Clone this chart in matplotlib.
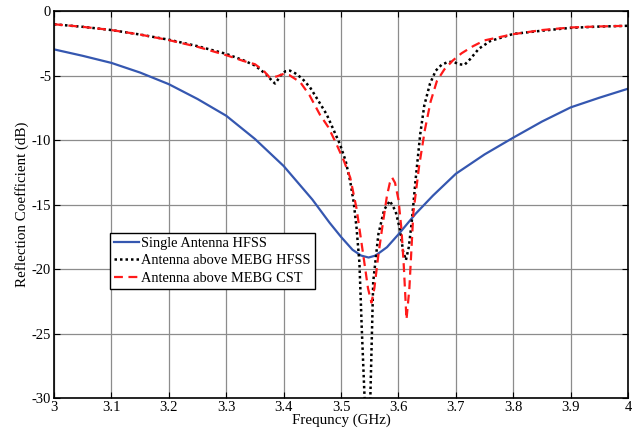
import numpy as np
import matplotlib
matplotlib.use("Agg")
import matplotlib.pyplot as plt

plt.rcParams['font.family'] = ['Liberation Serif', 'DejaVu Serif']
plt.rcParams['axes.unicode_minus'] = False

# Single antenna, HFSS
f_single = [3.0, 3.05, 3.1, 3.15, 3.2, 3.25, 3.3, 3.35, 3.4, 3.45, 3.48, 3.5, 3.52,
            3.535, 3.548, 3.56, 3.58, 3.6, 3.63, 3.66, 3.7, 3.75, 3.8, 3.85, 3.9, 3.95, 4.0]
s_single = [-2.95, -3.45, -4.0, -4.75, -5.65, -6.8, -8.1, -9.9, -12.0, -14.6, -16.4, -17.5, -18.5,
            -18.95, -19.1, -18.95, -18.3, -17.3, -15.7, -14.3, -12.6, -11.1, -9.8, -8.55, -7.45, -6.7, -6.0]

# Antenna above MEBG, HFSS
f_hfss = [3.0, 3.05, 3.1, 3.15, 3.2, 3.25, 3.3, 3.33, 3.35, 3.37, 3.38, 3.385, 3.39, 3.395,
          3.403, 3.411, 3.42, 3.432, 3.446, 3.46, 3.475, 3.49, 3.498, 3.508, 3.516, 3.522,
          3.527, 3.532, 3.536, 3.541, 3.546, 3.551, 3.556, 3.565, 3.575, 3.585, 3.595, 3.603,
          3.608, 3.613, 3.618, 3.623, 3.63, 3.638, 3.645, 3.655, 3.665, 3.675, 3.685, 3.695,
          3.705, 3.715, 3.725, 3.74, 3.76, 3.8, 3.85, 3.9, 3.95, 4.0]
s_hfss = [-1.0, -1.2, -1.45, -1.8, -2.2, -2.7, -3.3, -3.8, -4.2, -4.9, -5.4, -5.6, -5.3, -4.95,
          -4.65, -4.6, -4.8, -5.2, -5.9, -6.9, -8.0, -9.5, -10.3, -11.6, -13.2, -14.8,
          -16.8, -19.5, -24.5, -30.0, -36.0, -30.0, -21.0, -17.3, -15.4, -14.7, -15.5, -17.0,
          -18.6, -19.3, -18.3, -16.4, -13.0, -9.5, -7.3, -5.6, -4.6, -4.15, -3.95, -3.9,
          -4.1, -4.15, -3.7, -2.9, -2.3, -1.75, -1.5, -1.28, -1.18, -1.12]

# Antenna above MEBG, CST
f_cst = [3.0, 3.05, 3.1, 3.15, 3.2, 3.25, 3.3, 3.33, 3.35, 3.365, 3.376, 3.388, 3.4, 3.41,
         3.429, 3.445, 3.463, 3.478, 3.492, 3.505, 3.516, 3.527, 3.539, 3.547, 3.553, 3.558,
         3.565, 3.572, 3.58, 3.585, 3.589, 3.594, 3.6, 3.605, 3.609, 3.614, 3.619, 3.626,
         3.636, 3.646, 3.656, 3.667, 3.68, 3.695, 3.71, 3.73, 3.75, 3.8, 3.85, 3.9, 3.95, 4.0]
s_cst = [-1.0, -1.2, -1.45, -1.8, -2.23, -2.75, -3.4, -3.85, -4.1, -4.6, -5.15, -5.05, -4.85,
         -4.95, -5.5, -6.5, -8.0, -9.0, -10.3, -11.6, -12.9, -15.3, -19.0, -21.5, -22.6, -21.5,
         -18.9, -16.7, -14.3, -13.3, -12.9, -13.3, -14.6, -16.8, -19.5, -23.9, -21.5, -15.6,
         -12.0, -9.2, -7.0, -5.4, -4.5, -3.8, -3.25, -2.7, -2.25, -1.77, -1.45, -1.25, -1.17, -1.12]

fig = plt.figure(figsize=(6.37, 4.32), dpi=100)
ax = fig.add_axes([0.0848, 0.0787, 0.9012, 0.8950])

ax.plot(f_single, s_single, color='#3557b0', lw=1.6, label='Single Antenna HFSS')
ax.plot(f_hfss, s_hfss, color='black', lw=1.8, ls=(0, (1, 1.2)), label='Antenna above MEBG HFSS')
ax.plot(f_cst, s_cst, color='#ff1a1a', lw=1.6, ls=(0, (4, 2.5)), label='Antenna above MEBG CST')

ax.set_xlim(3, 4)
ax.set_ylim(-30, 0)
ax.set_xticks(np.arange(3, 4.01, 0.1))
ax.set_xticklabels(['3', '3.1', '3.2', '3.3', '3.4', '3.5', '3.6', '3.7', '3.8', '3.9', '4'])
ax.set_yticks(np.arange(-30, 1, 5))
ax.tick_params(direction='in', top=True, right=True, labelsize=10.5, length=4, pad=2)
ax.grid(True, color='#8c8c8c', lw=0.9)
for sp in ax.spines.values():
    sp.set_linewidth(1.2)

ax.set_xlabel('Frequncy (GHz)', fontsize=10.8, labelpad=0)
ax.set_ylabel('Reflection Coefficient (dB)', fontsize=10.8, labelpad=2)

leg = ax.legend(loc='upper left', bbox_to_anchor=(0.097, 0.428), fontsize=10.4, frameon=True,
                fancybox=False, edgecolor='black', framealpha=1, borderpad=0.3,
                labelspacing=0.3, handlelength=1.7, handletextpad=0.2, borderaxespad=0)
leg.get_frame().set_linewidth(1.0)

plt.savefig('out.png', dpi=100)
